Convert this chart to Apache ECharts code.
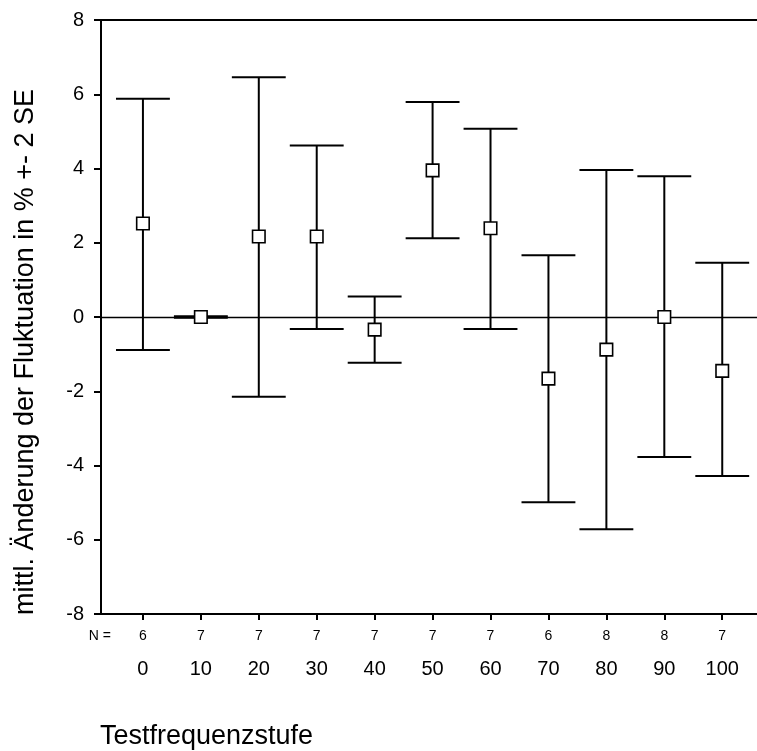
<!DOCTYPE html>
<html>
<head>
<meta charset="utf-8">
<script src="https://cdn.jsdelivr.net/npm/echarts@6/dist/echarts.min.js"></script>
<style>html,body{margin:0;padding:0;background:#fff;}#c{width:757px;height:751px;}</style>
</head>
<body>
<div id="c"></div>
<script>
var categories = ['0','10','20','30','40','50','60','70','80','90','100'];
var nValues = [6,7,7,7,7,7,7,6,8,8,7];
var means = [2.52, 0, 2.17, 2.17, -0.34, 3.95, 2.39, -1.66, -0.88, 0, -1.45];
var upper = [5.88, 0.02, 6.46, 4.62, 0.55, 5.79, 5.07, 1.66, 3.96, 3.79, 1.46];
var lower = [-0.89, -0.02, -2.15, -0.32, -1.23, 2.12, -0.32, -4.99, -5.72, -3.77, -4.28];
var yTitle = 'mittl. Änderung der Fluktuation in % +- 2 SE';
var xTitle = 'Testfrequenzstufe';
var nPrefix = 'N =';

var FONT = '"Liberation Sans", Arial, sans-serif';
var idx = categories.map(function(_, i){ return i; });
var barData = idx.map(function(i){ return [i, lower[i], upper[i]]; });
var meanData = idx.map(function(i){ return [i, means[i]]; });

var chart = echarts.init(document.getElementById('c'), null, {renderer: 'canvas'});
var option = {
  animation: false,
  backgroundColor: '#fff',
  grid: [
    {left: 101, top: 20, right: 0, bottom: 137},
    {left: 85, top: 20, right: 0, bottom: 137}
  ],
  xAxis: [
    {gridIndex: 0, type: 'value', min: 0, max: 1, position: 'bottom',
     axisLine: {show: true, onZero: false, lineStyle: {color: '#000', width: 2}},
     axisTick: {show: false}, axisLabel: {show: false}, splitLine: {show: false}},
    {gridIndex: 0, type: 'value', min: 0, max: 1, position: 'top',
     axisLine: {show: true, onZero: false, lineStyle: {color: '#000', width: 2}},
     axisTick: {show: false}, axisLabel: {show: false}, splitLine: {show: false}},
    {gridIndex: 1, type: 'value', min: -1, max: 10.6, interval: 1, position: 'bottom',
     axisLine: {show: false, onZero: false},
     axisTick: {show: true, inside: false, length: 6, customValues: idx, lineStyle: {color: '#000', width: 2}},
     axisLabel: {show: true, customValues: idx, margin: 15, fontSize: 14, fontFamily: FONT, color: '#000',
       formatter: function(v){ var i = Math.round(v); return (i >= 0 && i < nValues.length) ? String(nValues[i]) : ''; }},
     splitLine: {show: false}},
    {gridIndex: 1, type: 'value', min: -1, max: 10.6, interval: 1, position: 'bottom',
     axisLine: {show: false, onZero: false}, axisTick: {show: false},
     axisLabel: {show: true, customValues: idx, margin: 45, fontSize: 20, fontFamily: FONT, color: '#000',
       formatter: function(v){ var i = Math.round(v); return (i >= 0 && i < categories.length) ? categories[i] : ''; }},
     splitLine: {show: false}}
  ],
  yAxis: [
    {gridIndex: 0, type: 'value', min: -8, max: 8, interval: 2,
     axisLine: {show: true, onZero: false, lineStyle: {color: '#000', width: 2}},
     axisTick: {show: true, inside: false, length: 7, lineStyle: {color: '#000', width: 2}},
     axisLabel: {margin: 17, fontSize: 20, fontFamily: FONT, color: '#000'},
     splitLine: {show: false}},
    {gridIndex: 1, type: 'value', min: -8, max: 8, interval: 2, show: false}
  ],
  series: [
    {type: 'line', xAxisIndex: 0, yAxisIndex: 0, data: [], silent: true,
     markLine: {silent: true, symbol: 'none', label: {show: false},
       lineStyle: {color: '#000', width: 1.3, type: 'solid'},
       data: [{yAxis: 0}]}},
    {type: 'custom', xAxisIndex: 2, yAxisIndex: 1, data: barData, z: 3,
     renderItem: function(params, api){
       var x = api.value(0);
       var lo = api.coord([x, api.value(1)]);
       var hi = api.coord([x, api.value(2)]);
       var hw = api.size([1, 0])[0] * 0.465;
       var st = {stroke: '#000', lineWidth: 2, fill: null};
       return {type: 'group', children: [
         {type: 'line', shape: {x1: lo[0], y1: lo[1], x2: hi[0], y2: hi[1]}, style: st},
         {type: 'line', shape: {x1: hi[0]-hw, y1: hi[1], x2: hi[0]+hw, y2: hi[1]}, style: st},
         {type: 'line', shape: {x1: lo[0]-hw, y1: lo[1], x2: lo[0]+hw, y2: lo[1]}, style: st}
       ]};
     }},
    {type: 'scatter', xAxisIndex: 2, yAxisIndex: 1, data: meanData, z: 5,
     symbol: 'rect', symbolSize: 12.5,
     itemStyle: {color: '#fff', borderColor: '#000', borderWidth: 1.6, opacity: 1}}
  ],
  graphic: [
    {type: 'text', x: 26, y: 352, rotation: Math.PI/2,
     style: {text: yTitle, font: '27px ' + FONT, fill: '#000', align: 'center', verticalAlign: 'middle'}},
    {type: 'text', x: 100, y: 737,
     style: {text: xTitle, font: '27px ' + FONT, fill: '#000', align: 'left', verticalAlign: 'middle'}},
    {type: 'text', x: 111, y: 636,
     style: {text: nPrefix, font: '14px ' + FONT, fill: '#000', align: 'right', verticalAlign: 'middle'}}
  ]
};
chart.setOption(option);
</script>
</body>
</html>
